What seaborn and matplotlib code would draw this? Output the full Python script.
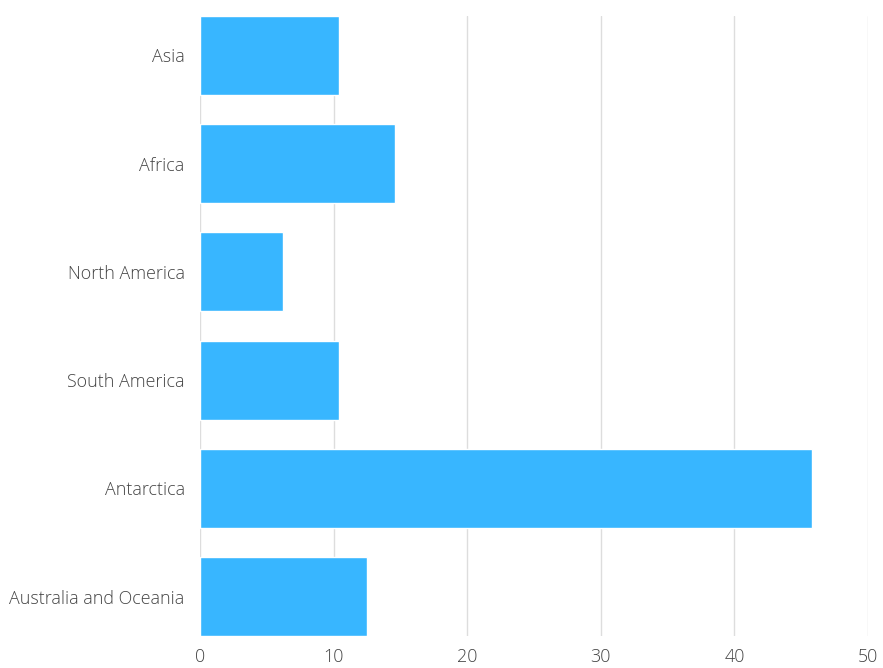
import pandas as pd
import matplotlib.pyplot as plt
import seaborn as sns

regions = ["Asia", "Africa", "North America", "South America", "Antarctica", "Australia and Oceania"]
values = [10.4, 14.6, 6.2, 10.4, 45.8, 12.5]
xticks = [0, 10, 20, 30, 40, 50]

df = pd.DataFrame({"region": regions, "value": values})

sns.set_style("white")
plt.rcParams['font.family'] = ['Open Sans', 'DejaVu Sans']
plt.rcParams['font.weight'] = 'light'

fig = plt.figure(figsize=(8.83, 6.68), dpi=100)
ax = fig.add_axes([200/883, 1-636/668, 668/883, 620/668])

sns.barplot(data=df, x="value", y="region", orient="h", color="#38B6FF",
            saturation=1, width=0.73, ax=ax, zorder=3)

ax.set_xlim(0, 50)
ax.set_ylim(len(regions) - 1 + 0.365, -0.365)
ax.set_xticks(xticks)
ax.grid(axis="x", color="#dddddd", linewidth=1, zorder=0)
ax.grid(axis="y", visible=False)
sns.despine(left=True, bottom=True, right=True, top=True)
ax.tick_params(axis="both", length=0, labelsize=12.9, labelcolor="#444444")
ax.tick_params(axis="x", pad=9)
ax.tick_params(axis="y", pad=11)
ax.set_xlabel("")
ax.set_ylabel("")

fig.savefig("out.png", dpi=100)
